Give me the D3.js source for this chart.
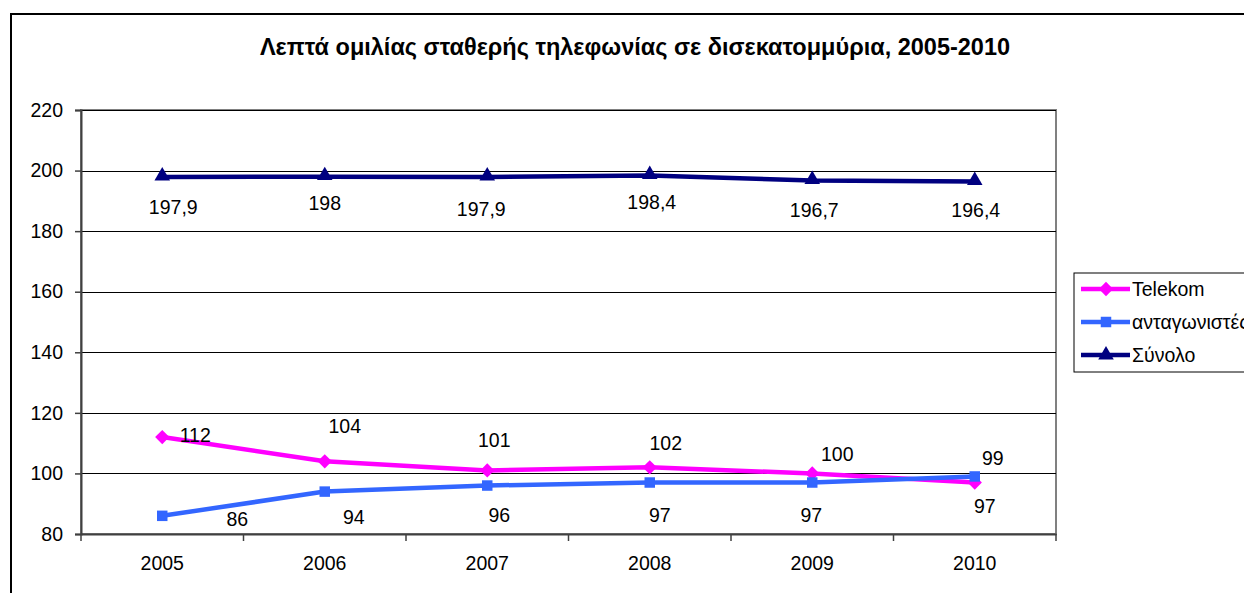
<!DOCTYPE html>
<html>
<head>
<meta charset="utf-8">
<script src="https://cdn.jsdelivr.net/npm/d3@7"></script>
<style>
  body { margin: 0; background: #fff; }
  text { font-family: "Liberation Sans", Arial, sans-serif; }
</style>
</head>
<body>
<script>
const width = 1244;
const height = 593;

const years = ['2005', '2006', '2007', '2008', '2009', '2010'];
const telekom = [112, 104, 101, 102, 100, 97];
const rivals = [86, 94, 96, 97, 97, 99];
const total = [197.9, 198, 197.9, 198.4, 196.7, 196.4];
const yTicks = [80, 100, 120, 140, 160, 180, 200, 220];

// data labels were dragged around by hand in the original, so nudge each one
const telekomNudge = [[33, -2], [20, -35], [7, -30], [16, -24], [25, -19], [10, 23]];
const rivalsNudge = [[75, 3], [29, 25], [12, 29], [10, 32], [-1, 32], [18, -18]];
const totalNudge = [[11, 30], [0, 26], [-6, 32], [2, 27], [2, 29], [1, 29]];

const series = [
  { name: 'Telekom', values: telekom, nudge: telekomNudge, color: '#ff00ff', marker: 'diamond' },
  { name: 'ανταγωνιστές', values: rivals, nudge: rivalsNudge, color: '#3366ff', marker: 'square' },
  { name: 'Σύνολο', values: total, nudge: totalNudge, color: '#000080', marker: 'triangle' }
];

const plot = { left: 81, top: 110, right: 1056, bottom: 534 };

const svg = d3.select('body').append('svg')
  .attr('width', width)
  .attr('height', height);

// outer chart frame (runs off the right and bottom edges)
svg.append('rect')
  .attr('x', 11).attr('y', 14)
  .attr('width', 1300).attr('height', 700)
  .attr('fill', '#fff')
  .attr('stroke', '#000')
  .attr('stroke-width', 2);

svg.append('text')
  .attr('x', 635).attr('y', 47)
  .attr('text-anchor', 'middle')
  .attr('dominant-baseline', 'central')
  .attr('font-size', 23.5)
  .attr('font-weight', 'bold')
  .text('Λεπτά ομιλίας σταθερής τηλεφωνίας σε δισεκατομμύρια, 2005-2010');

const x = d3.scaleBand().domain(years).range([plot.left, plot.right]);
const y = d3.scaleLinear().domain([80, 220]).range([plot.bottom, plot.top]);
const cx = d => x(d) + x.bandwidth() / 2;

// plot area border
svg.append('rect')
  .attr('x', plot.left).attr('y', plot.top)
  .attr('width', plot.right - plot.left).attr('height', plot.bottom - plot.top)
  .attr('fill', '#fff')
  .attr('stroke', '#808080')
  .attr('stroke-width', 2);

// gridlines
svg.append('g')
  .selectAll('line')
  .data(yTicks.slice(1))
  .enter().append('line')
    .attr('x1', plot.left).attr('x2', plot.right)
    .attr('y1', d => Math.round(y(d)) + 0.5).attr('y2', d => Math.round(y(d)) + 0.5)
    .attr('stroke', '#000')
    .attr('stroke-width', 1);

const yAxis = svg.append('g')
  .attr('transform', `translate(${plot.left},0)`)
  .call(d3.axisLeft(y).tickValues(yTicks).tickSize(6).tickPadding(12).tickFormat(d3.format('d')));

const xAxis = svg.append('g')
  .attr('transform', `translate(0,${plot.bottom})`)
  .call(d3.axisBottom(x).tickSize(0).tickPadding(22));

[yAxis, xAxis].forEach(ax => {
  ax.select('.domain').attr('stroke', '#404040').attr('stroke-width', 2);
  ax.selectAll('.tick line').attr('stroke', '#404040').attr('stroke-width', 1.5);
  ax.selectAll('text')
    .attr('font-family', '"Liberation Sans", Arial, sans-serif')
    .attr('font-size', 19.5)
    .attr('fill', '#000');
});

// category separators below the x axis
svg.append('g')
  .selectAll('line')
  .data(d3.range(years.length + 1))
  .enter().append('line')
    .attr('x1', i => plot.left + i * x.bandwidth())
    .attr('x2', i => plot.left + i * x.bandwidth())
    .attr('y1', plot.bottom).attr('y2', plot.bottom + 7)
    .attr('stroke', '#404040')
    .attr('stroke-width', 1.5);

const markerPath = {
  diamond: d3.symbol().type(d3.symbolDiamond2).size(130)(),
  square: d3.symbol().type(d3.symbolSquare).size(110)(),
  triangle: d3.symbol().type(d3.symbolTriangle).size(105)()
};

const line = d3.line()
  .x((d, i) => cx(years[i]))
  .y(d => y(d));

series.forEach(s => {
  const g = svg.append('g');
  g.append('path')
    .attr('d', line(s.values))
    .attr('fill', 'none')
    .attr('stroke', s.color)
    .attr('stroke-width', 4.5)
    .attr('stroke-linejoin', 'round');

  g.selectAll('.mark')
    .data(s.values)
    .enter().append('path')
      .attr('class', 'mark')
      .attr('d', markerPath[s.marker])
      .attr('transform', (d, i) => `translate(${cx(years[i])},${y(d) - (s.marker === 'triangle' ? 1 : 0)})`)
      .attr('fill', s.color);

  g.selectAll('.lbl')
    .data(s.values)
    .enter().append('text')
      .attr('class', 'lbl')
      .attr('x', (d, i) => cx(years[i]) + s.nudge[i][0])
      .attr('y', (d, i) => y(d) + s.nudge[i][1])
      .attr('text-anchor', 'middle')
      .attr('dominant-baseline', 'central')
      .attr('font-size', 19.5)
      .text(d => String(d).replace('.', ','));
});

// legend
const legend = svg.append('g');
legend.append('rect')
  .attr('x', 1074).attr('y', 273)
  .attr('width', 200).attr('height', 99)
  .attr('fill', '#fff')
  .attr('stroke', '#000')
  .attr('stroke-width', 1);

const item = legend.selectAll('.item')
  .data(series)
  .enter().append('g')
    .attr('class', 'item')
    .attr('transform', (d, i) => `translate(0,${289 + i * 33})`);

item.append('line')
  .attr('x1', 1081).attr('x2', 1130)
  .attr('stroke', d => d.color)
  .attr('stroke-width', 4.5);

item.append('path')
  .attr('d', d => markerPath[d.marker])
  .attr('transform', 'translate(1106,0)')
  .attr('fill', d => d.color);

item.append('text')
  .attr('x', 1132)
  .attr('dominant-baseline', 'central')
  .attr('font-size', 19.5)
  .text(d => d.name);
</script>
</body>
</html>
